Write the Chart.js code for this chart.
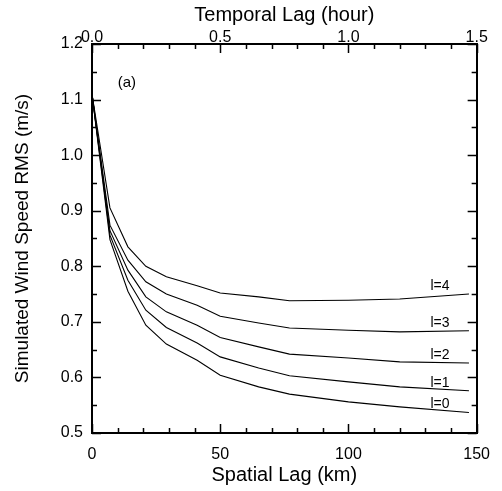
<!DOCTYPE html>
<html>
<head>
<meta charset="utf-8">
<script src="https://cdn.jsdelivr.net/npm/chart.js@4"></script>
<style>
  html, body { margin: 0; padding: 0; background: #fff; }
  #wrap { width: 502px; height: 491px; position: relative; }
</style>
</head>
<body>
<div id="wrap"><canvas id="rmsChart"></canvas></div>
<script>
// spatial lag (km) where the curves have their corners
const spatialLag = [0, 7, 14, 21, 29, 41, 50, 65, 77, 100, 120, 147];
// simulated wind speed RMS (m/s), one list per l
const rmsL0 = [1.11, 0.848, 0.755, 0.694, 0.660, 0.631, 0.604, 0.583, 0.570, 0.556, 0.547, 0.537];
const rmsL1 = [1.11, 0.856, 0.775, 0.721, 0.690, 0.662, 0.637, 0.617, 0.603, 0.592, 0.583, 0.576];
const rmsL2 = [1.11, 0.864, 0.793, 0.745, 0.718, 0.694, 0.672, 0.655, 0.642, 0.635, 0.628, 0.626];
const rmsL3 = [1.11, 0.874, 0.811, 0.772, 0.750, 0.730, 0.710, 0.698, 0.689, 0.685, 0.682, 0.684];
const rmsL4 = [1.11, 0.905, 0.835, 0.800, 0.781, 0.765, 0.752, 0.745, 0.738, 0.739, 0.741, 0.750];
const curveLabels = ['l=0', 'l=1', 'l=2', 'l=3', 'l=4'];
const labelAtKm = 132;

const spatialTicks = [0, 50, 100, 150];
const temporalTicks = [0, 0.5, 1.0, 1.5];
const rmsTicks = [0.5, 0.6, 0.7, 0.8, 0.9, 1.0, 1.1, 1.2];

const FONT = "'Liberation Sans', Arial, sans-serif";

function toPoints(ys) {
    return ys.map((y, i) => ({ x: spatialLag[i], y: y }));
}

const series = [rmsL0, rmsL1, rmsL2, rmsL3, rmsL4];

// inward tick marks on all four sides, plus the curve labels and panel tag
const frameTicks = {
    id: 'frameTicks',
    afterDatasetsDraw(chart) {
        const { ctx, chartArea: a, scales } = chart;
        ctx.save();
        ctx.strokeStyle = '#000';
        ctx.lineWidth = 1.5;
        ctx.beginPath();
        for (let v = 0; v <= 150.001; v += 10) {
            const px = Math.round(scales.x.getPixelForValue(v)) + 0.5;
            const len = v % 50 === 0 ? 9 : 5;
            ctx.moveTo(px, a.bottom); ctx.lineTo(px, a.bottom - len);
        }
        for (let k = 0; k <= 15; k++) {
            const px = Math.round(scales.x2.getPixelForValue(k / 10)) + 0.5;
            const len = k % 5 === 0 ? 9 : 5;
            ctx.moveTo(px, a.top); ctx.lineTo(px, a.top + len);
        }
        for (let k = 0; k <= 14; k++) {
            const v = 0.5 + k * 0.05;
            const py = Math.round(scales.y.getPixelForValue(v)) + 0.5;
            const len = k % 2 === 0 ? 9 : 5;
            ctx.moveTo(a.left, py); ctx.lineTo(a.left + len, py);
            ctx.moveTo(a.right, py); ctx.lineTo(a.right - len, py);
        }
        ctx.stroke();

        ctx.fillStyle = '#000';
        ctx.font = '14px ' + FONT;
        ctx.textAlign = 'left';
        ctx.textBaseline = 'bottom';
        series.forEach((ys, i) => {
            const last = ys[ys.length - 1];
            const px = scales.x.getPixelForValue(labelAtKm);
            const py = scales.y.getPixelForValue(last) - 1;
            ctx.fillText(curveLabels[i], px, py);
        });

        ctx.font = '15px ' + FONT;
        ctx.textBaseline = 'middle';
        ctx.fillText('(a)', scales.x.getPixelForValue(10), scales.y.getPixelForValue(1.13));
        ctx.restore();
    }
};

const axisBorder = { display: true, color: '#000', width: 2 };
const noGrid = { display: true, drawOnChartArea: false, drawTicks: false };

new Chart(document.getElementById('rmsChart'), {
    type: 'line',
    data: {
        datasets: series.map((ys, i) => ({
            label: curveLabels[i],
            data: toPoints(ys),
            borderColor: '#000',
            borderWidth: 1.1,
            pointRadius: 0,
            tension: 0,
            fill: false
        }))
    },
    options: {
        responsive: true,
        maintainAspectRatio: false,
        animation: false,
        layout: { padding: 0 },
        plugins: {
            legend: { display: false },
            tooltip: { enabled: false }
        },
        scales: {
            x: {
                type: 'linear', position: 'bottom', min: 0, max: 150,
                border: axisBorder, grid: noGrid,
                afterBuildTicks: s => { s.ticks = spatialTicks.map(v => ({ value: v })); },
                afterFit: s => { s.height = 58; },
                ticks: {
                    autoSkip: false, maxRotation: 0, padding: 12, color: '#000',
                    font: { family: FONT, size: 16 },
                    callback: v => String(v)
                },
                title: {
                    display: true, text: 'Spatial Lag (km)', color: '#000',
                    font: { family: FONT, size: 20 }, padding: { top: 0, bottom: 4 }
                }
            },
            x2: {
                type: 'linear', position: 'top', min: 0, max: 1.5,
                border: axisBorder, grid: noGrid,
                afterBuildTicks: s => { s.ticks = temporalTicks.map(v => ({ value: v })); },
                afterFit: s => { s.height = 44; },
                ticks: {
                    autoSkip: false, maxRotation: 0, padding: -3, color: '#000',
                    font: { family: FONT, size: 16 },
                    callback: v => Number(v).toFixed(1)
                },
                title: {
                    display: true, text: 'Temporal Lag (hour)', color: '#000',
                    font: { family: FONT, size: 20 }, padding: { top: 3, bottom: 0 }
                }
            },
            y: {
                type: 'linear', position: 'left', min: 0.5, max: 1.2,
                border: axisBorder, grid: noGrid,
                afterBuildTicks: s => { s.ticks = rmsTicks.map(v => ({ value: v })); },
                afterFit: s => { s.width = 92; },
                ticks: {
                    autoSkip: false, padding: 9, color: '#000',
                    font: { family: FONT, size: 16 },
                    callback: v => Number(v).toFixed(1)
                },
                title: {
                    display: true, text: 'Simulated Wind Speed RMS (m/s)', color: '#000',
                    font: { family: FONT, size: 19 }, padding: { top: 11, bottom: 0 }
                }
            },
            y2: {
                type: 'linear', position: 'right', min: 0.5, max: 1.2,
                border: axisBorder, grid: noGrid,
                afterFit: s => { s.width = 23; },
                ticks: { display: false }
            }
        }
    },
    plugins: [frameTicks]
});
</script>
</body>
</html>
